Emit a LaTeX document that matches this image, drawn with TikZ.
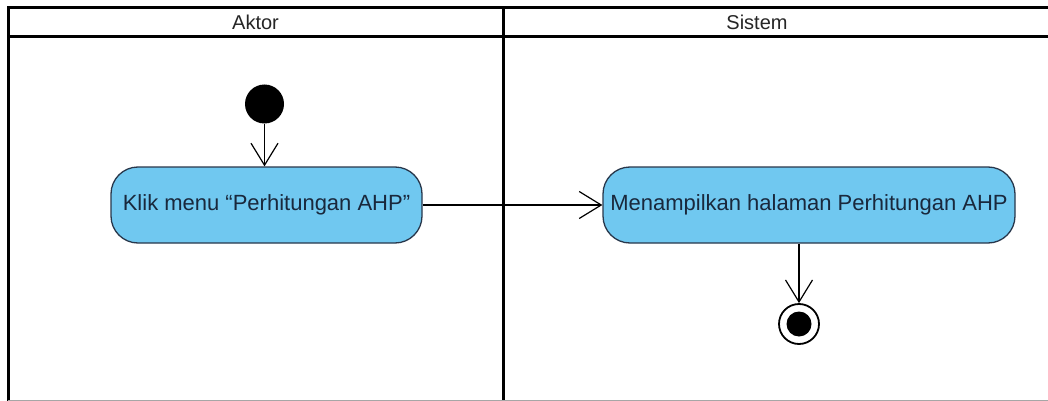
\documentclass[tikz,border=0pt]{standalone}
\usepackage{fontspec}
\setmainfont{Liberation Sans}
\usetikzlibrary{arrows.meta}
\definecolor{actfill}{RGB}{112,200,240}
\definecolor{actline}{RGB}{40,55,75}
\definecolor{acttext}{RGB}{25,40,60}
\tikzset{
  lane/.style={line width=3pt, black},
  lanetitle/.style={font=\fontsize{20}{23}\selectfont, text=black!85, inner sep=0pt},
  action/.style={draw=actline, line width=1.3pt, fill=actfill, rounded corners=27pt,
    minimum width=311pt, minimum height=76pt, inner sep=0pt,
    font=\fontsize{22}{26}\selectfont, text=acttext},
  initial/.style={circle, fill=black, minimum size=39pt, inner sep=0pt},
  finalring/.style={circle, draw=black, line width=1.8pt, fill=white, minimum size=40pt, inner sep=0pt},
  flow/.style={line width=1.2pt, black, -{Straight Barb[length=22pt, width=27pt, line width=1.2pt]}},
}
\begin{document}
\begin{tikzpicture}[x=1pt, y=-1pt]
  \useasboundingbox (0,0) rectangle (1048,401);
  \fill[white] (0,0) rectangle (1048,401);
  % swimlane frame
  \draw[lane] (8,8) -- (1048,8);
  \draw[lane] (8,37) -- (1048,37);
  \draw[lane] (8,6.5) -- (8,401);
  \draw[lane] (503,6.5) -- (503,401);
  \draw[black!35, line width=1pt] (8,400) -- (1048,400);
  \node[lanetitle] (aktor) at (255.5,22.5) {Aktor};
  \node[lanetitle] (sistem) at (757,22.5) {Sistem};
  % nodes
  \node[initial] (start) at (264.5,104) {};
  \node[action] (a1) at (266.5,205) {Klik menu “Perhitungan AHP”};
  \node[action, minimum width=412pt] (a2) at (809,205) {Menampilkan halaman Perhitungan AHP};
  \node[finalring] (end) at (799,324) {};
  \node[circle, fill=black, minimum size=25pt, inner sep=0pt] (endin) at (end.center) {};
  % flows
  \draw[flow] (start) -- (a1.north -| start);
  \draw[flow] (a1.east) -- (a2.west);
  \draw[flow] (a2.south -| end) -- (end.north);
\end{tikzpicture}
\end{document}
